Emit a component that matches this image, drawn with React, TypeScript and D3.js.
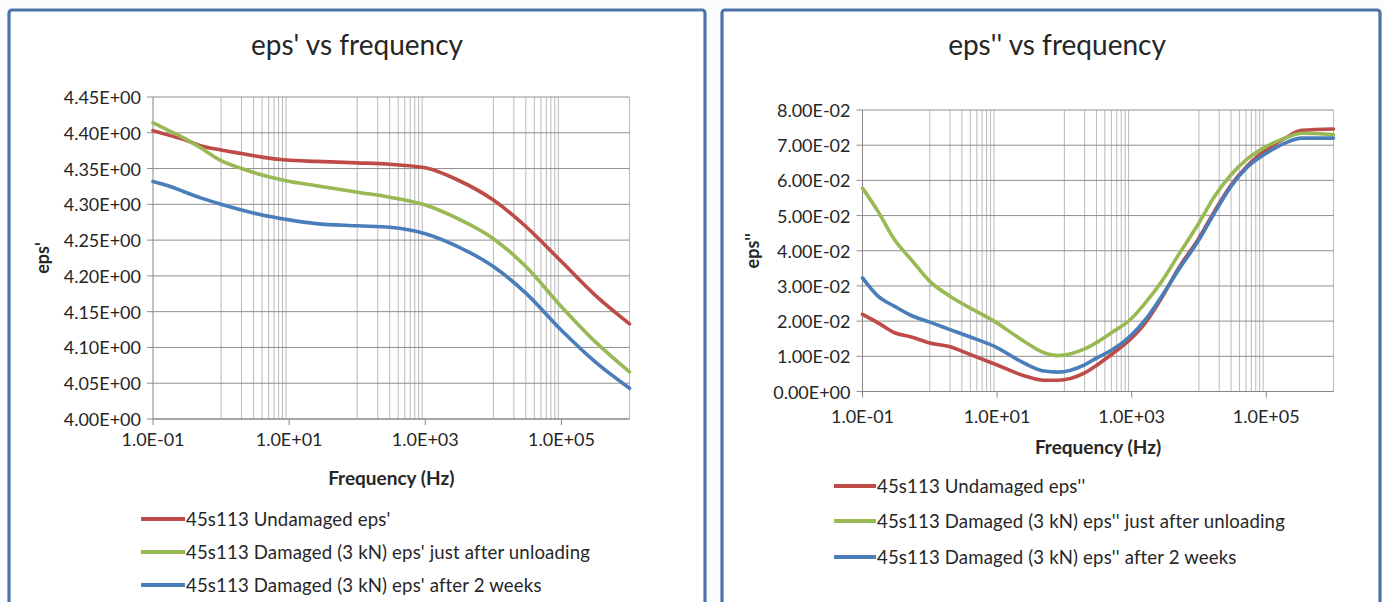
import React from "react";
import * as d3 from "d3";

// ---------- Data ----------
const FREQ_EPS1 = [0.1, 0.18, 0.28, 0.5, 1, 2, 4, 9, 25, 100, 300, 1000, 3000, 1e4, 3e4, 1e5, 3.3e5, 1e6];
const EPS1_UNDAMAGED = [4.403, 4.396, 4.391, 4.382, 4.376, 4.371, 4.366, 4.362, 4.36, 4.358, 4.356, 4.351, 4.334, 4.306, 4.269, 4.22, 4.171, 4.133];
const EPS1_JUST_AFTER = [4.414, 4.402, 4.393, 4.379, 4.361, 4.35, 4.341, 4.333, 4.326, 4.317, 4.31, 4.299, 4.28, 4.252, 4.213, 4.157, 4.106, 4.066];
const EPS1_TWO_WEEKS = [4.332, 4.325, 4.318, 4.309, 4.3, 4.292, 4.285, 4.279, 4.273, 4.27, 4.268, 4.259, 4.241, 4.213, 4.176, 4.124, 4.078, 4.043];

const FREQ_EPS2 = [0.1, 0.17, 0.3, 0.53, 1, 2, 4, 9, 25, 50, 80, 200, 300, 500, 950, 1600, 2800, 5000, 1e4, 1.7e4, 3e4, 5.4e4, 1e5, 1.9e5, 3.4e5, 1e6];
const EPS2_UNDAMAGED = [0.0219, 0.0195, 0.0167, 0.0155, 0.0138, 0.0127, 0.0105, 0.0079, 0.0045, 0.0032, 0.0032, 0.0053, 0.0074, 0.0105, 0.0148, 0.0195, 0.0266, 0.0351, 0.0436, 0.0512, 0.0587, 0.0644, 0.0687, 0.072, 0.0742, 0.0746];
const EPS2_JUST_AFTER = [0.0578, 0.0512, 0.0431, 0.0375, 0.0313, 0.0271, 0.0237, 0.02, 0.0143, 0.011, 0.0102, 0.0121, 0.0139, 0.0167, 0.0204, 0.0252, 0.0313, 0.0389, 0.0479, 0.0554, 0.0616, 0.0663, 0.0696, 0.072, 0.0734, 0.073];
const EPS2_TWO_WEEKS = [0.0323, 0.0271, 0.0242, 0.0216, 0.0197, 0.0176, 0.0155, 0.0129, 0.0081, 0.0058, 0.0055, 0.0076, 0.0095, 0.0117, 0.0157, 0.0204, 0.0271, 0.0346, 0.0431, 0.0507, 0.0583, 0.064, 0.0677, 0.0706, 0.072, 0.072];

const X_DOMAIN = [0.1, 1e6];
const X_TICKS = [0.1, 10, 1000, 1e5];
const X_TICK_LABELS = ["1.0E-01", "1.0E+01", "1.0E+03", "1.0E+05"];
const MINOR_DECADES = [1, 100, 1e4];
const MINOR_STEPS = [1, 2, 3, 4, 5, 6, 7, 8, 9];

const Y1_TICKS = [4.0, 4.05, 4.1, 4.15, 4.2, 4.25, 4.3, 4.35, 4.4, 4.45];
const Y1_TICK_LABELS = ["4.00E+00", "4.05E+00", "4.10E+00", "4.15E+00", "4.20E+00", "4.25E+00", "4.30E+00", "4.35E+00", "4.40E+00", "4.45E+00"];
const Y2_TICKS = [0, 0.01, 0.02, 0.03, 0.04, 0.05, 0.06, 0.07, 0.08];
const Y2_TICK_LABELS = ["0.00E+00", "1.00E-02", "2.00E-02", "3.00E-02", "4.00E-02", "5.00E-02", "6.00E-02", "7.00E-02", "8.00E-02"];

const LEGEND1 = ["45s113 Undamaged eps'", "45s113 Damaged (3 kN) eps' just after unloading", "45s113 Damaged (3 kN) eps' after 2 weeks"];
const LEGEND2 = ["45s113 Undamaged eps''", "45s113 Damaged (3 kN) eps'' just after unloading", "45s113 Damaged (3 kN) eps'' after 2 weeks"];
const TITLES = ["eps' vs frequency", "eps'' vs frequency"];
const Y_TITLES = ["eps'", "eps''"];
const X_TITLE = "Frequency (Hz)";

// ---------- Styles ----------
const COLORS = ["#be4b48", "#98b954", "#4a7ebb"];
const FONT = "Lato, 'Open Sans', sans-serif";
const TEXT = "#262626";

type PanelProps = {
  frame: { x: number; y: number; w: number; h: number };
  title: string;
  titleX: number;
  titleY: number;
  plot: { left: number; right: number; top: number; bottom: number };
  yDomain: [number, number];
  yTicks: number[];
  yLabels: string[];
  yTitle: string;
  yTitleX: number;
  xLabelY: number;
  xTitleY: number;
  freq: number[];
  series: number[][];
  legend: string[];
  legendX1: number;
  legendX2: number;
  legendRows: number[];
};

function Panel(p: PanelProps) {
  const x = d3.scaleLog().domain(X_DOMAIN).range([p.plot.left, p.plot.right]);
  const y = d3.scaleLinear().domain(p.yDomain).range([p.plot.bottom, p.plot.top]);
  const line = d3
    .line<[number, number]>()
    .x((d) => x(d[0]))
    .y((d) => y(d[1]))
    .curve(d3.curveMonotoneX);
  const minor: number[] = [];
  MINOR_DECADES.forEach((d) => MINOR_STEPS.forEach((k) => minor.push(d * k)));
  minor.push(X_DOMAIN[1]);
  const cx = (p.plot.left + p.plot.right) / 2;
  const cy = (p.plot.top + p.plot.bottom) / 2;
  return (
    <g>
      <rect x={p.frame.x} y={p.frame.y} width={p.frame.w} height={p.frame.h} rx={3} fill="#ffffff" stroke="#4d72a8" strokeWidth={3.2} />
      <text x={p.titleX} y={p.titleY} textAnchor="middle" dominantBaseline="central" fontFamily={FONT} fontSize={28} fill={TEXT}>
        {p.title}
      </text>
      {minor.map((f, i) => (
        <line key={"v" + i} x1={x(f)} x2={x(f)} y1={p.plot.top} y2={p.plot.bottom} stroke="#b9b9b9" strokeWidth={1} />
      ))}
      {p.yTicks.map((t, i) => (
        <g key={"h" + i}>
          <line x1={p.plot.left - 6} x2={p.plot.right} y1={y(t)} y2={y(t)} stroke="#8f8f8f" strokeWidth={1} />
          <text x={p.plot.left - 12} y={y(t)} textAnchor="end" dominantBaseline="central" fontFamily={FONT} fontSize={18} fill={TEXT}>
            {p.yLabels[i]}
          </text>
        </g>
      ))}
      <line x1={p.plot.left} x2={p.plot.left} y1={p.plot.top} y2={p.plot.bottom} stroke="#868686" strokeWidth={1} />
      <line x1={p.plot.left} x2={p.plot.right} y1={p.plot.bottom} y2={p.plot.bottom} stroke="#868686" strokeWidth={1} />
      {X_TICKS.map((t, i) => (
        <g key={"xt" + i}>
          <line x1={x(t)} x2={x(t)} y1={p.plot.bottom} y2={p.plot.bottom + 6} stroke="#868686" strokeWidth={1} />
          <text x={x(t)} y={p.xLabelY} textAnchor="middle" dominantBaseline="central" fontFamily={FONT} fontSize={18} fill={TEXT}>
            {X_TICK_LABELS[i]}
          </text>
        </g>
      ))}
      <text x={cx} y={p.xTitleY} textAnchor="middle" dominantBaseline="central" fontFamily={FONT} fontSize={19} fontWeight="bold" fill={TEXT}>
        {X_TITLE}
      </text>
      <text
        transform={`translate(${p.yTitleX},${cy}) rotate(-90)`}
        textAnchor="middle"
        dominantBaseline="central"
        fontFamily={FONT}
        fontSize={18}
        fontWeight="bold"
        fill={TEXT}
      >
        {p.yTitle}
      </text>
      {p.series.map((s, i) => (
        <path
          key={"s" + i}
          d={line(p.freq.map((f, j) => [f, s[j]] as [number, number])) || ""}
          fill="none"
          stroke={COLORS[i]}
          strokeWidth={3.6}
          strokeLinejoin="round"
          strokeLinecap="round"
        />
      ))}
      {p.legend.map((l, i) => (
        <g key={"l" + i}>
          <line x1={p.legendX1} x2={p.legendX2} y1={p.legendRows[i]} y2={p.legendRows[i]} stroke={COLORS[i]} strokeWidth={4} />
          <text x={p.legendX2 + 1} y={p.legendRows[i]} dominantBaseline="central" fontFamily={FONT} fontSize={18.6} letterSpacing={0.15} fill={TEXT}>
            {l}
          </text>
        </g>
      ))}
    </g>
  );
}

export default function App() {
  return (
    <div style={{ position: "absolute", left: 0, top: 0, width: 1383, height: 602, overflow: "hidden", background: "#ffffff" }}>
      <svg width={1383} height={602} viewBox="0 0 1383 602" style={{ display: "block" }}>
        <rect x={0} y={0} width={1383} height={602} fill="#fbfcfe" />
        <Panel
          frame={{ x: 9, y: 10, w: 696, h: 620 }}
          title={TITLES[0]}
          titleX={357}
          titleY={44}
          plot={{ left: 153, right: 629.5, top: 97, bottom: 419 }}
          yDomain={[4.0, 4.45]}
          yTicks={Y1_TICKS}
          yLabels={Y1_TICK_LABELS}
          yTitle={Y_TITLES[0]}
          yTitleX={42}
          xLabelY={439}
          xTitleY={477}
          freq={FREQ_EPS1}
          series={[EPS1_UNDAMAGED, EPS1_JUST_AFTER, EPS1_TWO_WEEKS]}
          legend={LEGEND1}
          legendX1={141}
          legendX2={185}
          legendRows={[519, 552, 585]}
        />
        <Panel
          frame={{ x: 722, y: 10, w: 658, h: 620 }}
          title={TITLES[1]}
          titleX={1057}
          titleY={44}
          plot={{ left: 862.5, right: 1333.5, top: 110, bottom: 391.5 }}
          yDomain={[0, 0.08]}
          yTicks={Y2_TICKS}
          yLabels={Y2_TICK_LABELS}
          yTitle={Y_TITLES[1]}
          yTitleX={752}
          xLabelY={416}
          xTitleY={446}
          freq={FREQ_EPS2}
          series={[EPS2_UNDAMAGED, EPS2_JUST_AFTER, EPS2_TWO_WEEKS]}
          legend={LEGEND2}
          legendX1={834}
          legendX2={876}
          legendRows={[486, 521, 557]}
        />
      </svg>
    </div>
  );
}
